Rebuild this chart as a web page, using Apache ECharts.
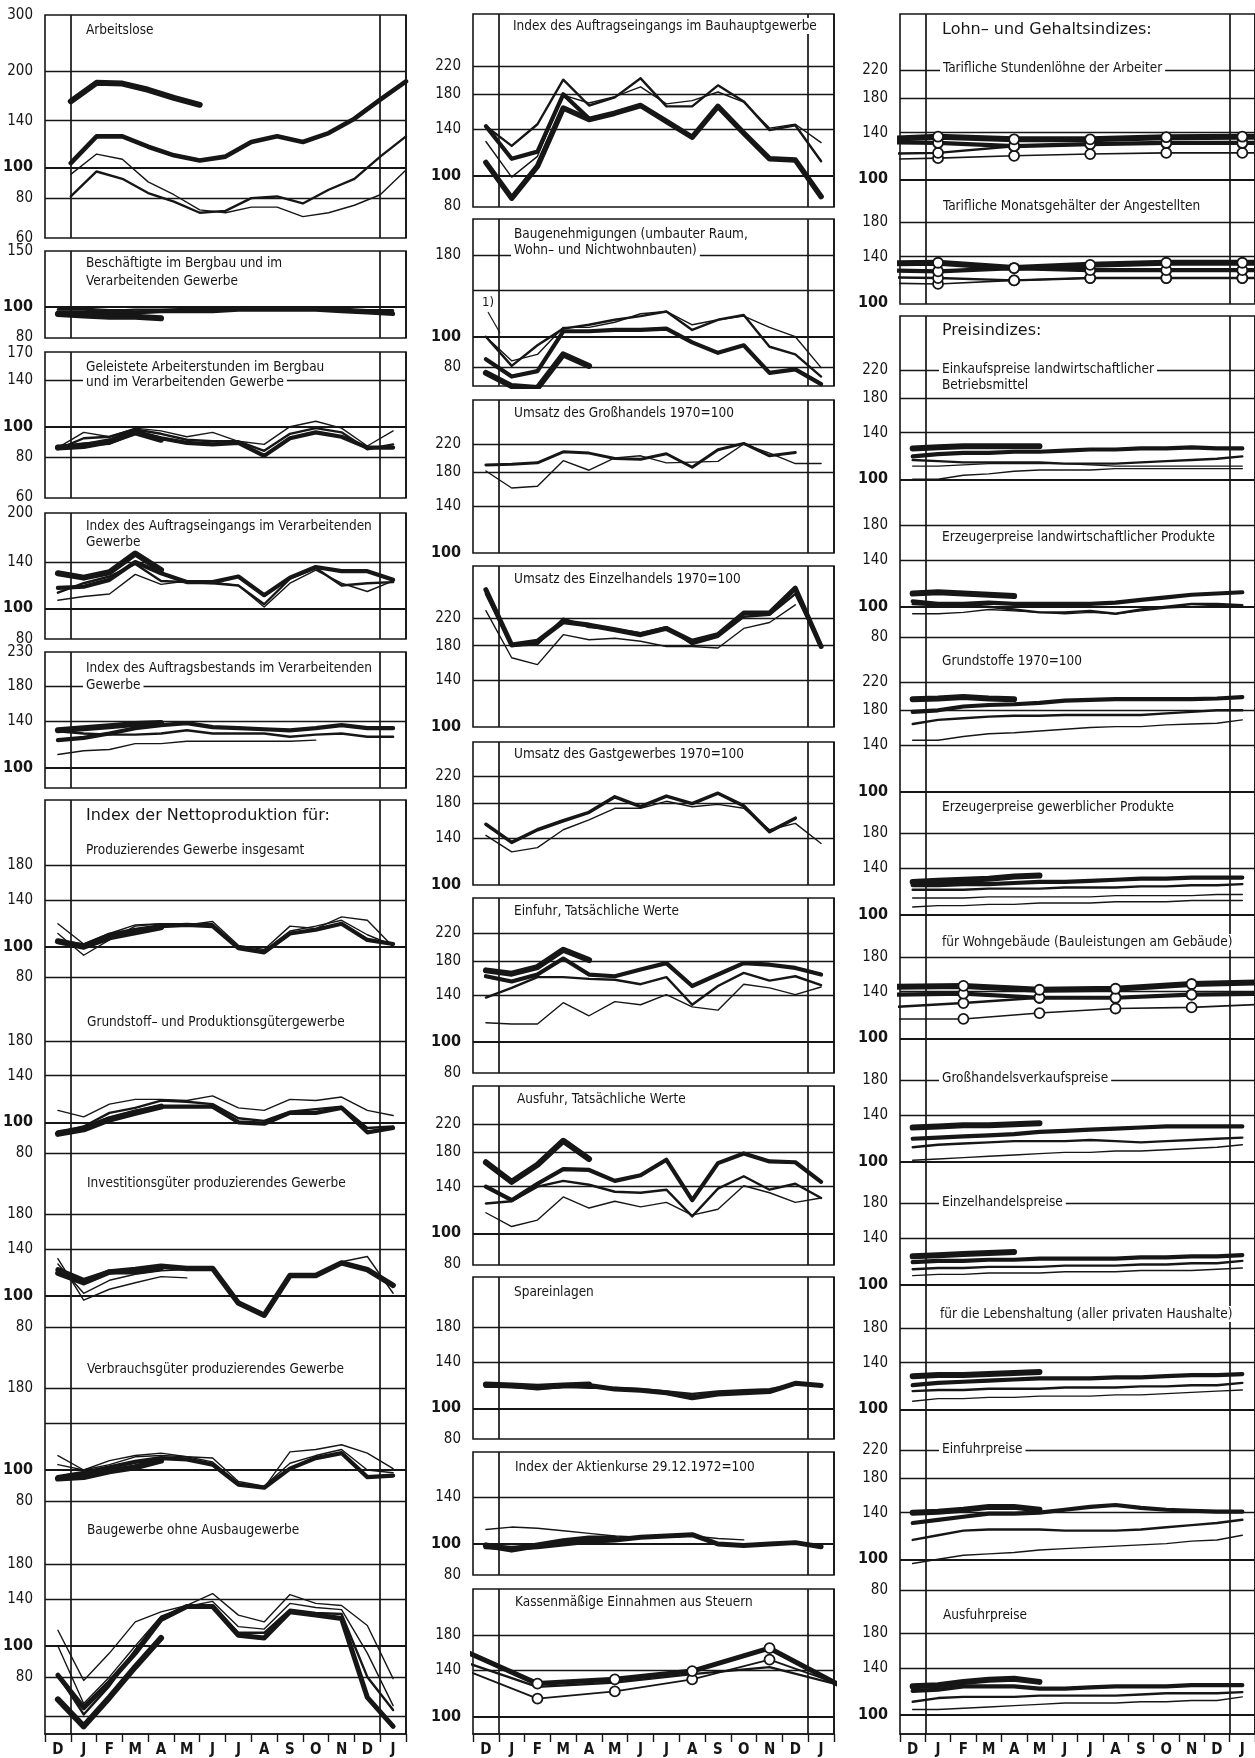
<!DOCTYPE html>
<html><head><meta charset="utf-8">
<script src="https://cdn.jsdelivr.net/npm/echarts@6/dist/echarts.min.js"></script>
<style>html,body{margin:0;padding:0;background:#fff}#c{width:1255px;height:1758px}</style>
</head><body><div id="c"></div>
<script>
// ---------- categories / x positions ----------
const months = ['D','J','F','M','A','M','J','J','A','S','O','N','D','J'];
const monthEnd_x = [0.5,1.5,2.5,3.5,4.5,5.5,6.5,7.5,8.5,9.5,10.5,11.5,12.5,13.5];
const quarterMid_x = [-1,2,5,8,11,14];
const quarterStart_x = [-2,1,4,7,10,13,16];

// ---------- column 1 ----------
const arb_a = [161,184,183,175,165,157];
const arb_b = [103,125,125,116,109,105,108,120,125,120,128,142,163,186];
const arb_c = [81,97,92,83,78,72,73,80,81,77,85,92,108,125];
const arb_d = [95,110,106,90,82,73.5,72,75,75,70,72,76,82,98];

const besch_a = [95,94,93,93,92];
const besch_b = [96,96,96,96,97,97,97,98,98,98,98,97,96,95];
const besch_c = [98,98,97,98,98,98,98,99,99,99,99,98,97,97];
const besch_d = [99,99,98,98,98,99,99,99,100,99,99,99,98,98];

const std_a = [86,87,90,96,91];
const std_b = [86,88,89,96,92,89,88,89,81,92,96,93,86,86];
const std_c = [85,92,93,98,95,91,90,90,84,95,99,96,85,88];
const std_d = [86,96,93,99,97,93,96,90,88,100,104,99,87,97];

const aev_a = [129,125,130,149,132];
const aev_b = [116,117,123,140,129,121,121,126,110,125,135,131,131,123];
const aev_c = [112,120,126,138,122,121,120,118,103,124,134,118,120,121];
const aev_d = [106,109,111,128,119,122,121,118,101,120,132,120,113,122];

const abv_a = [131,133,135,137,138];
const abv_b = [122,124,128,133,136,138,134,133,132,131,133,136,133,133];
const abv_c = [130,128,127,127,128,131,128,128,128,125,127,128,125,125];
const abv_d = [110,113,114,119,119,121,121,121,121,121,122];

const npg_a = [104,100,107,111,115];
const npg_b = [104,101,109,113,116,117,116,99,96,110,113,118,105,102];
const npg_c = [110,94,105,116,118,118,118,100,97,112,116,121,109,101];
const npg_d = [118,102,110,117,118,117,120,101,98,116,114,124,121,100];

const ngr_a = [92,95,102,107,112];
const ngr_b = [93,96,103,108,112,112,112,100,99,107,107,111,93,96];
const ngr_c = [93,97,107,111,117,116,114,103,101,108,110,112,96,97];
const ngr_d = [109,104,114,118,118,117,121,111,109,118,117,120,109,105];

const ninv_a = [121,112,119,119,122];
const ninv_b = [118,110,119,121,124,122,122,95,87,116,116,127,121,108];
const ninv_c = [131,97,105,110,115,114];
const ninv_d = [126,102,112,117,120,121,122,96,88,117,117,128,133,102];

const nvb_a = [94,95,99,102,107];
const nvb_b = [95,98,102,106,109,108,104,90,88,101,109,113,95,96];
const nvb_c = [104,100,104,110,111,110,109,92,89,105,111,116,100,98];
const nvb_d = [111,100,107,111,113,110,106,91,88,114,116,120,113,101];

const nbau_a = [68,56,69,86,106];
const nbau_b = [81,64,77,95,121,133,133,108,106,128,125,122,69,56];
const nbau_c = [81,61,75,97,123,133,134,110,110,130,127,126,80,63];
const nbau_d = [112,78,95,119,128,134,146,125,119,145,136,134,116,79];
const nbau_e = [100,66,80,100,124,133,138,115,113,136,132,130,95,65];

// ---------- column 2 ----------
const bh_a = [110,85,107,163,150,157,166,148,132,165,136,113,112,86];
const bh_b = [143,113,119,180,151];
const bh_c = [143,124,145,200,166,176,202,165,165,192,171,139,144,111];
const bh_d = [128,99,115,179,169,177,190,168,172,183,170,141,145,127];

const bg_a = [77,70,69,88,81];
const bg_b = [85,75,78,104,104,105,105,106,96,89,94,77,79,71];
const bg_c = [100,81,94,106,109,113,116,120,105,113,117,93,88,75];
const bg_d = [100,84,88,107,107,111,118,120,109,113,116,107,100,80];

const gh_a = [189,190,192,208,206,198,197,205,186,211,221,202,207];
const gh_b = [181,160,162,195,182,199,202,192,193,194,220,206,191,191];

const eh_a = [270,181,186,214,209,202,195,204,186,195,228,228,273,179];
const eh_b = [262,180,182,219,206,203,197,206,182,192,222,225,262,180];
const eh_c = [232,165,157,195,188,190,186,179,179,177,204,213,242];

const gg_a = [155,136,149,159,169,189,176,190,180,194,177,147,162];
const gg_b = [143,127,131,149,160,174,174,183,176,179,174,149,156,135];

const ef_a = [168,164,172,195,181];
const ef_b = [161,155,163,183,163,161,169,177,150,163,177,175,171,163];
const ef_c = [138,148,160,160,158,157,152,160,131,150,165,156,161,151];
const ef_d = [115,114,114,133,121,134,131,141,129,126,152,148,141,149];

const af_a = [167,145,164,195,171];
const af_b = [140,127,143,159,158,146,152,170,127,166,178,168,167,145];
const af_c = [124,126,140,146,142,135,134,137,113,138,151,137,143,129];
const af_d = [116,105,110,130,120,126,121,125,114,119,141,134,125,129];

const sp_a = [119,118,117,118,119];
const sp_b = [118,118,116,118,118,115,114,112,108,111,112,113,120,118];
const sp_c = [118,117,117,117,116,116,115,113,111,113,114,115,119,118];

const ak_a = [99,96,99,102,104,104];
const ak_b = [98,97,98,100,102,103,105,106,107,100,99,100,101,98];
const ak_c = [111,113,112,110,108,106,105,105,106,104,103];

const st_a = [163,127,131,139,164,122];
const st_b = [150,124,128,136,143,124];
const st_c = [142,114,120,131,151,124];

// ---------- column 3 ----------
const sl_a = [133,136,133.5,133.5,135.5,136,136];
const sl_b = [131,130,127,129,130,130,130];
const sl_c = [120,121,127,129,130,130,130];
const sl_d = [115,116.5,118.5,120,121,121,121];

const mg_a = [133,134,129,132,134,134,134];
const mg_b = [127,126,129,127,127,127,127];
const mg_c = [121,120,118,120,120,120,120];
const mg_d = [116,115,118,120,120,120,120];

const ek_a = [125,126,127,127,127,127];
const ek_b = [118,120,121,121,122,122,123,124,124,125,125,126,125,125];
const ek_c = [115,114,113,113,113,113,112,112,112,113,114,115,116,118];
const ek_d = [110,110,111,112,112,112,112,111,110,110,110,110,110,110];
const ek_e = [100,100,103,104,106,107,107,107,108,108,108,108,108,108];

const ez_a = [110,111,110,109,108];
const ez_b = [104,102,102,103,102,102,102,102,103,105,107,109,110,111];
const ez_c = [102,101,101,100,98,96,96,97,95,98,100,102,102,101];
const ez_d = [95,95,96,98,97,96,95,96,95,97,99,100,101,100];

const gs_a = [195,196,198,196,195];
const gs_b = [178,180,185,187,188,190,193,194,195,195,195,195,196,198];
const gs_c = [163,168,170,172,173,173,174,174,174,174,176,178,180,180];
const gs_d = [145,145,149,152,153,155,157,159,160,160,162,163,164,168];

const gw_a = [127,128,129,130,132,133];
const gw_b = [124,124,125,125,126,127,127,128,129,130,130,131,131,131];
const gw_c = [120,120,120,121,121,121,122,122,122,123,123,124,124,125];
const gw_d = [113,113,113,114,114,114,114,114,115,115,115,115,116,116];
const gw_e = [106,107,107,108,108,109,109,109,110,110,110,111,111,111];

const wg_a = [145,146,142,143,148,150];
const wg_b = [137,138,134,134,137,138];
const wg_c = [125,129,134,134,137,138];
const wg_d = [115,115,120,124,125,128];

const ghp_a = [128,129,130,130,131,132];
const ghp_b = [118,119,120,121,122,124,125,126,127,128,129,129,129,129];
const ghp_c = [111,113,114,115,116,116,116,117,116,115,116,117,118,119];
const ghp_d = [101,102,103,104,105,106,107,107,108,108,109,110,111,113];

const ehp_a = [123,124,125,126,127];
const ehp_b = [118,119,119,120,120,121,121,121,121,122,122,123,123,124];
const ehp_c = [112,113,113,114,114,114,115,115,115,116,116,117,117,119];
const ehp_d = [107,108,108,109,109,109,110,110,110,111,111,111,112,113];

const lh_a = [127,128,128,129,130,131];
const lh_b = [119,121,122,123,124,125,125,125,126,126,127,128,128,129];
const lh_c = [114,115,115,116,116,116,117,117,117,118,118,119,119,121];
const lh_d = [106,108,108,109,109,110,110,110,111,111,112,113,114,115];

const efp_a = [140,141,143,146,146,143];
const efp_b = [130,133,136,139,139,140,143,146,148,145,143,142,141,141];
const efp_c = [115,119,123,124,124,124,123,123,123,124,126,128,130,133];
const efp_d = [97,100,103,104,105,107,108,109,110,111,112,114,115,119];

const afp_a = [123,124,127,129,130,127];
const afp_b = [119,120,123,123,123,121,121,122,123,123,123,124,124,124];
const afp_c = [110,113,114,114,114,115,115,115,115,116,117,117,117,118];
const afp_d = [104,104,105,106,107,108,109,109,109,110,110,111,111,114];

// ---------- layout / style ----------
const INK = '#161616';
const NARROW = "'Liberation Sans Narrow','DejaVu Sans Condensed','Roboto Condensed',sans-serif";
const WIDE = "'DejaVu Sans','Noto Sans',sans-serif";
const K = 138.5;               // px per ln-unit of the log scale
const XL = 6, L = 4.2, M = 2.4, S = 1.4;
const COLS = [{left:45, width:361},{left:473, width:361},{left:900, width:361}];

const frames = [
  [0,15,238],[0,251,338],[0,352,498],[0,513,639],[0,652,788],[0,800,1738,1],
  [1,14,207],[1,219,386],[1,400,553],[1,566,727],[1,742,885],[1,898,1073],[1,1086,1265],[1,1277,1439],[1,1452,1575],[1,1589,1737,1],
  [2,14,304],[2,316,1736,1]
];

// [value, flag]  flag: 'e' edge label only, 'n' line without label
const panels = [
  {c:0,t:15,b:238,r:167.3,g:[[300,'e'],[200],[140],[100],[80],[60,'e']],
   s:[[arb_d,S,monthEnd_x],[arb_c,M,monthEnd_x],[arb_b,4.6,monthEnd_x],[arb_a,XL,monthEnd_x]]},
  {c:0,t:251,b:338,r:306.7,g:[[150,'e'],[100],[80,'e']],
   s:[[besch_d,S],[besch_c,M],[besch_b,L],[besch_a,XL]]},
  {c:0,t:352,b:498,r:426.7,g:[[170,'e'],[140],[100],[80],[60,'e']],
   s:[[std_d,S],[std_c,M],[std_b,L],[std_a,XL]]},
  {c:0,t:513,b:639,r:608.3,g:[[200,'e'],[140],[100],[80,'e']],
   s:[[aev_d,S],[aev_c,M],[aev_b,L],[aev_a,XL]]},
  {c:0,t:652,b:788,r:767.7,g:[[230,'e'],[180],[140],[100]],
   s:[[abv_d,S],[abv_c,M],[abv_b,L],[abv_a,XL]]},
  {c:0,t:800,b:1000,r:946.7,g:[[180],[140],[100],[80]],
   s:[[npg_d,S],[npg_c,S],[npg_b,L],[npg_a,XL]]},
  {c:0,t:1000,b:1162,r:1122.3,g:[[180],[140],[100],[80]],
   s:[[ngr_d,S],[ngr_c,M],[ngr_b,L],[ngr_a,XL]]},
  {c:0,t:1162,b:1340,r:1296,g:[[180],[140],[100],[80]],
   s:[[ninv_c,S],[ninv_d,S],[ninv_b,5.5],[ninv_a,5]]},
  {c:0,t:1340,b:1512,r:1470,g:[[180],[140,'n'],[100],[80]],
   s:[[nvb_d,S],[nvb_c,S],[nvb_b,L],[nvb_a,XL]]},
  {c:0,t:1512,b:1738,r:1646,g:[[180],[140],[100],[80],[60,'n']],
   s:[[nbau_d,S],[nbau_e,S],[nbau_c,M],[nbau_b,5],[nbau_a,XL]]},

  {c:1,t:14,b:207,r:175.7,g:[[220],[180],[140],[100],[80,'e']],
   s:[[bh_d,S],[bh_c,M],[bh_b,L],[bh_a,5.5]]},
  {c:1,t:219,b:386,r:336.7,g:[[180],[140,'n'],[100],[80]],
   s:[[bg_d,S],[bg_c,M],[bg_b,L],[bg_a,XL]]},
  {c:1,t:400,b:553,r:553.3,g:[[220],[180],[140],[100,'e']],
   s:[[gh_b,S],[gh_a,3]]},
  {c:1,t:566,b:727,r:727.3,g:[[220],[180],[140],[100,'e']],
   s:[[eh_c,S],[eh_b,M],[eh_a,5]]},
  {c:1,t:742,b:885,r:885,g:[[220],[180],[140],[100,'e']],
   s:[[gg_b,S],[gg_a,3.5]]},
  {c:1,t:898,b:1073,r:1042.3,g:[[220],[180],[140],[100],[80,'e']],
   s:[[ef_d,S],[ef_c,M],[ef_b,L],[ef_a,XL]]},
  {c:1,t:1086,b:1265,r:1233.3,g:[[220],[180],[140],[100],[80,'e']],
   s:[[af_d,S],[af_c,M],[af_b,L],[af_a,XL]]},
  {c:1,t:1277,b:1439,r:1409.3,g:[[180],[140],[100],[80,'e']],
   s:[[sp_c,M],[sp_b,5],[sp_a,XL]]},
  {c:1,t:1452,b:1575,r:1544,g:[[140],[100],[80,'e']],
   s:[[ak_c,S],[ak_b,5],[ak_a,XL]]},
  {c:1,t:1589,b:1737,r:1716.7,g:[[180],[140],[100]],
   s:[[st_b,M,quarterMid_x],[st_c,1.8,quarterMid_x,1],[st_a,5,quarterMid_x,1]]},

  {c:2,t:14,b:190,r:179.3,g:[[220],[180],[140],[100]],
   s:[[sl_d,1.6,quarterStart_x,1],[sl_c,M,quarterStart_x,1],[sl_b,L,quarterStart_x,1],[sl_a,XL,quarterStart_x,1]]},
  {c:2,t:190,b:304,r:303.3,g:[[180],[140],[100,'e']],
   s:[[mg_d,1.6,quarterStart_x,1],[mg_c,M,quarterStart_x,1],[mg_b,L,quarterStart_x,1],[mg_a,XL,quarterStart_x,1]]},
  {c:2,t:316,b:495,r:479.3,g:[[220],[180],[140],[100]],
   s:[[ek_e,S],[ek_d,S],[ek_c,M],[ek_b,L],[ek_a,XL]]},
  {c:2,t:495,b:650,r:606.7,g:[[180],[140],[100],[80]],
   s:[[ez_d,S],[ez_c,M],[ez_b,L],[ez_a,XL]]},
  {c:2,t:650,b:800,r:791.7,g:[[220],[180],[140],[100]],
   s:[[gs_d,S],[gs_c,M],[gs_b,L],[gs_a,XL]]},
  {c:2,t:800,b:925,r:915,g:[[180],[140],[100]],
   s:[[gw_e,S],[gw_d,S],[gw_c,M],[gw_b,L],[gw_a,XL]]},
  {c:2,t:925,b:1050,r:1038.3,g:[[180],[140],[100]],
   s:[[wg_d,1.6,quarterMid_x,1],[wg_c,M,quarterMid_x,1],[wg_b,L,quarterMid_x,1],[wg_a,XL,quarterMid_x,1]]},
  {c:2,t:1050,b:1175,r:1161.7,g:[[180],[140],[100]],
   s:[[ghp_d,S],[ghp_c,M],[ghp_b,L],[ghp_a,XL]]},
  {c:2,t:1175,b:1297,r:1285,g:[[180],[140],[100]],
   s:[[ehp_d,S],[ehp_c,M],[ehp_b,L],[ehp_a,XL]]},
  {c:2,t:1297,b:1425,r:1409.3,g:[[180],[140],[100]],
   s:[[lh_d,S],[lh_c,M],[lh_b,L],[lh_a,XL]]},
  {c:2,t:1425,b:1600,r:1559.3,g:[[220],[180],[140],[100],[80]],
   s:[[efp_d,S],[efp_c,M],[efp_b,L],[efp_a,XL]]},
  {c:2,t:1600,b:1736,r:1715,g:[[180],[140],[100]],
   s:[[afp_d,S],[afp_c,M],[afp_b,L],[afp_a,XL]]}
];

// [text, x, centre y, wide?]
const titles = [
  ['Arbeitslose',86,31],
  ['Beschäftigte im Bergbau und im',86,264],
  ['Verarbeitenden Gewerbe',86,282],
  ['Geleistete Arbeiterstunden im Bergbau',86,368],
  ['und im Verarbeitenden Gewerbe',86,383],
  ['Index des Auftragseingangs im Verarbeitenden',86,527],
  ['Gewerbe',86,543],
  ['Index des Auftragsbestands im Verarbeitenden',86,669],
  ['Gewerbe',86,686],
  ['Index der Nettoproduktion für:',86,816,1],
  ['Produzierendes Gewerbe insgesamt',86,851],
  ['Grundstoff– und Produktionsgütergewerbe',87,1023],
  ['Investitionsgüter produzierendes Gewerbe',87,1184],
  ['Verbrauchsgüter produzierendes Gewerbe',87,1370],
  ['Baugewerbe ohne Ausbaugewerbe',87,1531],
  ['Index des Auftragseingangs im Bauhauptgewerbe',513,27],
  ['Baugenehmigungen (umbauter Raum,',514,235],
  ['Wohn– und Nichtwohnbauten)',514,251],
  ['Umsatz des Großhandels 1970=100',514,414],
  ['Umsatz des Einzelhandels 1970=100',514,580],
  ['Umsatz des Gastgewerbes 1970=100',514,755],
  ['Einfuhr, Tatsächliche Werte',514,912],
  ['Ausfuhr, Tatsächliche Werte',517,1100],
  ['Spareinlagen',514,1293],
  ['Index der Aktienkurse 29.12.1972=100',515,1468],
  ['Kassenmäßige Einnahmen aus Steuern',515,1603],
  ['Lohn– und Gehaltsindizes:',942,30,1],
  ['Tarifliche Stundenlöhne der Arbeiter',943,69],
  ['Tarifliche Monatsgehälter der Angestellten',943,207],
  ['Preisindizes:',942,331,1],
  ['Einkaufspreise landwirtschaftlicher',942,370],
  ['Betriebsmittel',942,386],
  ['Erzeugerpreise landwirtschaftlicher Produkte',942,538],
  ['Grundstoffe 1970=100',942,662],
  ['Erzeugerpreise gewerblicher Produkte',942,808],
  ['für Wohngebäude (Bauleistungen am Gebäude)',942,943],
  ['Großhandelsverkaufspreise',942,1079],
  ['Einzelhandelspreise',942,1203],
  ['für die Lebenshaltung (aller privaten Haushalte)',940,1315],
  ['Einfuhrpreise',942,1450],
  ['Ausfuhrpreise',943,1616]
];

// ---------- build option ----------
const option = {animation:false, backgroundColor:'#fff', grid:[], xAxis:[], yAxis:[], series:[], graphic:[]};

frames.forEach(([c,t,b,ax]) => {
  const col = COLS[c];
  const gi = option.grid.push({left:col.left, top:t, width:col.width, height:b-t, show:true,
    borderColor:INK, borderWidth:1.6, backgroundColor:'transparent'}) - 1;
  option.xAxis.push({type:'category', gridIndex:gi, data:months, boundaryGap:true, z:0,
    axisLine:{show:!!ax, lineStyle:{color:INK, width:1.6}},
    axisTick:{show:!!ax, interval:0, length:8, lineStyle:{color:INK, width:1.4}},
    axisLabel:{show:!!ax, interval:0, margin:9, color:INK, fontFamily:NARROW, fontSize:15, fontWeight:'bold'},
    splitLine:{show:true, interval:(i)=> i===1 || i===13, lineStyle:{color:INK, width:1.7}}});
  option.yAxis.push({type:'value', gridIndex:gi, show:false});
});

panels.forEach(p => {
  const col = COLS[p.c];
  const gi = option.grid.push({left:col.left, top:p.t, width:col.width, height:p.b-p.t, show:false}) - 1;
  const xi = option.xAxis.push({type:'value', gridIndex:gi, min:-0.5, max:13.5, show:false}) - 1;
  let yMin = 100*Math.exp((p.r-p.b)/K), yMax = 100*Math.exp((p.r-p.t)/K);
  p.g.forEach(([v]) => { yMin = Math.min(yMin, v); yMax = Math.max(yMax, v); });
  const yi = option.yAxis.push({type:'log', logBase:10, gridIndex:gi, show:false, min:yMin, max:yMax}) - 1;
  p.s.forEach((s, k) => {
    const [vals, w, xs, circ] = s;
    const data = vals.map((v,i)=>[xs ? xs[i] : i, v]);
    const ser = {type:'line', xAxisIndex:xi, yAxisIndex:yi, data, silent:true, clip:true, z:5,
      symbol: circ ? 'circle' : 'none', symbolSize:10, showSymbol:!!circ, showAllSymbol:true,
      lineStyle:{color:INK, width:w, cap:'round', join:'round'},
      itemStyle:{color:'#fff', borderColor:INK, borderWidth:1.8}};
    if (k === 0) {
      ser.markLine = {silent:true, symbol:['none','none'], z:2, animation:false,
        label:{show:true, position:'start', distance:12, color:INK, fontFamily:NARROW, fontSize:15, formatter:'{b}'},
        lineStyle:{color:INK, width:1.3, type:'solid'},
        emphasis:{disabled:true},
        data: p.g.map(([v, f]) => ({yAxis:v, name:String(v),
          label:{show: f !== 'n', color:INK, fontWeight: v===100 ? 'bold' : 'normal', fontSize: v===100 ? 16 : 15},
          lineStyle: f==='e' ? {width:0, color:'rgba(0,0,0,0)'} : {width: v===100 ? 2 : 1.3, color:INK}}))};
    }
    option.series.push(ser);
  });
});

titles.forEach(([txt,x,cy,wide]) => {
  option.graphic.push({type:'text', left:x-3, top:cy-9, z:3,
    style:{text:txt, fill:INK, fontFamily: wide ? WIDE : NARROW, fontSize: wide ? 16 : 13.5,
      backgroundColor:'#fff', padding:[1,3,1,3]}});
});
// footnote marker in the Baugenehmigungen panel
option.graphic.push({type:'text', left:482, top:296, z:3, style:{text:'1)', fill:INK, fontFamily:NARROW, fontSize:13}});
option.graphic.push({type:'line', z:3, shape:{x1:488, y1:312, x2:500, y2:333}, style:{stroke:INK, lineWidth:1.2}});

const chart = echarts.init(document.getElementById('c'), null, {renderer:'canvas'});
chart.setOption(option);
</script>
</body></html>
